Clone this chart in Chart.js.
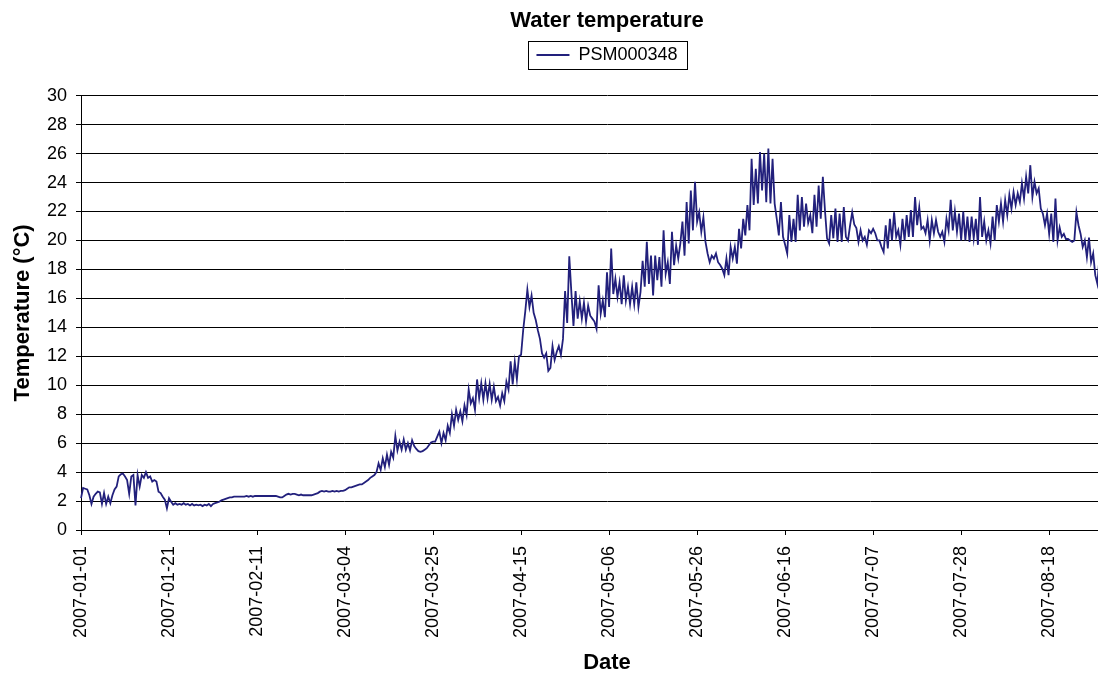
<!DOCTYPE html>
<html>
<head>
<meta charset="utf-8">
<title>Water temperature</title>
<script src="https://cdn.jsdelivr.net/npm/chart.js@4.4.1/dist/chart.umd.min.js"></script>
<style>
  html, body { margin: 0; padding: 0; overflow: hidden; background: #fff; }
  #wrap { width: 1140px; height: 677px; }
</style>
</head>
<body>
<div id="wrap"><canvas id="myChart" width="1140" height="677"></canvas></div>
<script>
// dates written under every 42nd reading (about two readings a day)
var tickLabels = ['2007-01-01', '2007-01-21', '2007-02-11', '2007-03-04', '2007-03-25', '2007-04-15',
  '2007-05-06', '2007-05-26', '2007-06-16', '2007-07-07', '2007-07-28', '2007-08-18'];
var samplesPerTick = 42;
var sampleCount = 503; // the axis runs a bit past the right edge of the picture
var seriesName = 'PSM000348';

// water temperature (°C), 21 readings per row
var temperature = [
  2.2, 2.9, 2.85, 2.8, 2.4, 1.8, 2.3, 2.5, 2.65, 2.6, 1.8, 2.55, 1.8, 2.3, 1.85, 2.4, 2.8, 3.0, 3.7, 3.85, 3.9,
  3.7, 3.45, 2.5, 3.7, 3.8, 1.7, 3.8, 3.0, 3.8, 3.6, 4.0, 3.6, 3.7, 3.35, 3.45, 3.35, 2.65, 2.55, 2.3, 2.1, 1.5,
  2.2, 1.95, 1.75, 1.85, 1.75, 1.8, 1.75, 1.85, 1.75, 1.8, 1.7, 1.8, 1.7, 1.75, 1.7, 1.75, 1.65, 1.75, 1.7, 1.8, 1.65,
  1.8, 1.85, 1.9, 1.95, 2.05, 2.1, 2.15, 2.2, 2.25, 2.25, 2.3, 2.3, 2.3, 2.3, 2.3, 2.3, 2.35, 2.3, 2.35, 2.3, 2.35,
  2.35, 2.35, 2.35, 2.35, 2.35, 2.35, 2.35, 2.35, 2.35, 2.35, 2.3, 2.25, 2.25, 2.35, 2.45, 2.5, 2.45, 2.5, 2.5, 2.45, 2.4,
  2.45, 2.4, 2.4, 2.4, 2.4, 2.4, 2.45, 2.5, 2.55, 2.65, 2.7, 2.65, 2.7, 2.65, 2.65, 2.7, 2.65, 2.7, 2.65, 2.7, 2.7,
  2.75, 2.85, 2.95, 2.95, 3.0, 3.05, 3.1, 3.15, 3.15, 3.25, 3.35, 3.45, 3.6, 3.7, 3.8, 4.0, 4.6, 4.15, 4.95, 4.35, 5.2,
  4.5, 5.4, 5.0, 6.5, 5.5, 6.1, 5.55, 6.25, 5.55, 6.0, 5.5, 6.2, 5.8, 5.6, 5.45, 5.4, 5.45, 5.55, 5.65, 5.85, 6.05,
  6.1, 6.1, 6.45, 6.8, 6.0, 6.7, 6.2, 7.2, 6.7, 8.0, 7.2, 8.3, 7.6, 8.2, 7.5, 8.6, 7.95, 9.7, 8.75, 9.1, 8.3,
  10.4, 9.1, 10.15, 9.0, 10.15, 9.1, 10.1, 9.0, 9.9, 8.9, 9.2, 8.6, 9.45, 8.9, 10.25, 9.7, 11.65, 10.05, 11.6, 10.4, 12.0,
  12.1, 13.8, 15.1, 16.6, 15.4, 16.2, 15.0, 14.5, 13.8, 13.2, 12.2, 11.9, 12.2, 11.0, 11.2, 12.7, 11.75, 12.3, 12.7, 12.1, 13.2,
  16.5, 14.3, 18.9, 16.4, 14.1, 16.5, 14.6, 15.8, 14.6, 15.7, 14.4, 15.5, 14.8, 14.6, 14.4, 13.9, 16.9, 14.95, 15.85, 14.7, 17.8,
  15.4, 19.45, 16.3, 17.35, 16.1, 17.1, 15.6, 17.6, 15.85, 16.8, 15.6, 16.8, 15.6, 17.1, 15.4, 16.45, 18.6, 16.8, 19.9, 17.0, 18.95,
  16.2, 18.95, 17.25, 18.85, 16.8, 20.7, 17.7, 18.5, 17.0, 20.6, 18.3, 19.65, 18.75, 19.8, 21.3, 18.95, 22.65, 19.8, 23.45, 20.7, 24.05,
  21.3, 21.95, 20.6, 21.6, 19.9, 19.1, 18.5, 18.95, 18.75, 19.1, 18.5, 18.3, 18.05, 17.6, 18.75, 17.6, 19.55, 18.75, 19.55, 18.4, 20.8,
  19.45, 21.5, 20.35, 22.45, 20.7, 25.65, 22.45, 24.95, 22.55, 26.1, 23.45, 26.0, 22.65, 26.35, 22.55, 25.65, 22.55, 21.5, 20.35, 22.65, 20.25,
  19.7, 19.1, 21.75, 19.9, 21.5, 19.9, 23.15, 20.7, 23.0, 20.95, 22.55, 21.2, 21.75, 20.5, 23.15, 20.95, 23.8, 21.5, 24.4, 22.1, 20.15,
  19.8, 21.75, 20.15, 22.2, 19.9, 21.85, 19.9, 22.3, 20.25, 20.0, 21.05, 21.95, 21.1, 20.85, 19.9, 20.7, 20.0, 20.25, 19.7, 20.7, 20.5,
  20.8, 20.5, 20.0, 20.0, 19.55, 19.2, 21.05, 19.45, 21.5, 20.0, 21.95, 20.25, 20.7, 19.7, 21.5, 20.0, 21.75, 20.25, 22.1, 20.25, 23.0,
  21.05, 22.3, 20.8, 20.95, 20.5, 21.4, 20.0, 21.4, 20.5, 21.4, 20.6, 20.25, 20.6, 19.9, 21.5, 20.7, 22.8, 20.7, 22.0, 20.6, 21.85,
  20.0, 22.0, 20.0, 21.65, 19.9, 21.65, 20.15, 21.5, 19.7, 23.0, 20.25, 21.3, 20.0, 20.7, 19.8, 21.65, 20.0, 22.45, 21.3, 22.55, 21.3,
  22.8, 21.75, 23.15, 22.2, 23.35, 22.45, 23.25, 22.65, 23.95, 22.9, 24.4, 23.25, 25.2, 23.0, 24.05, 23.25, 23.6, 22.2, 21.85, 21.05, 21.85,
  20.45, 21.85, 19.9, 22.9, 20.0, 20.9, 20.25, 20.45, 20.1, 20.1, 20.0, 19.9, 20.0, 21.95, 21.05, 20.45, 19.55, 20.0, 18.85, 20.2, 18.5,
  19.1, 17.6, 17.0, 18.85
];

var sampleLabels = [];
for (var i = 0; i < sampleCount; i++) {
  sampleLabels.push(i);
}

Chart.defaults.font.family = "'Liberation Sans', Arial, sans-serif";
Chart.defaults.color = '#000';

// frame round the legend, like the spreadsheet one
var legendFrame = {
  id: 'legendFrame',
  afterDraw: function (chart) {
    var legend = chart.legend;
    if (!legend || !legend.legendHitBoxes || !legend.legendHitBoxes.length) return;
    var box = legend.legendHitBoxes[0];
    var ctx = chart.ctx;
    ctx.save();
    ctx.strokeStyle = '#000';
    ctx.lineWidth = 1;
    ctx.strokeRect(Math.round(box.left - 8) + 0.5, Math.round(box.top - 5) + 0.5,
      Math.round(box.width + 18), Math.round(box.height + 10));
    ctx.restore();
  }
};

var myChart = new Chart(document.getElementById('myChart').getContext('2d'), {
  type: 'line',
  data: {
    labels: sampleLabels,
    datasets: [{
      label: seriesName,
      data: temperature,
      borderColor: '#22207c',
      backgroundColor: '#22207c',
      borderWidth: 1.8,
      pointRadius: 0,
      fill: false,
      tension: 0
    }]
  },
  options: {
    responsive: false,
    animation: false,
    devicePixelRatio: 1,
    layout: { padding: { left: 0, right: 7, top: 0, bottom: 0 } },
    plugins: {
      title: {
        display: true,
        text: 'Water temperature',
        fullSize: false,
        font: { size: 22, weight: 'bold' },
        padding: { top: 7.8, bottom: 7.8 }
      },
      legend: {
        display: true,
        fullSize: false,
        labels: {
          usePointStyle: true,
          pointStyle: 'line',
          pointStyleWidth: 33,
          font: { size: 18 },
          padding: 4
        }
      },
      // empty spacer between legend and plot
      subtitle: {
        display: true,
        text: '',
        fullSize: false,
        weight: 500,
        font: { size: 1 },
        padding: { top: 20.5, bottom: 0 }
      },
      tooltip: { enabled: false }
    },
    scales: {
      x: {
        type: 'category',
        offset: false,
        afterBuildTicks: function (axis) {
          axis.ticks = axis.ticks.filter(function (t) { return t.value % samplesPerTick === 0; });
        },
        afterFit: function (axis) { axis.height = 147; },
        grid: { display: true, drawOnChartArea: false, drawTicks: true, tickLength: 5, color: '#000' },
        border: { display: true, color: '#000', width: 1 },
        ticks: {
          autoSkip: false,
          minRotation: 90,
          maxRotation: 90,
          padding: 11,
          font: { size: 18 },
          callback: function (value) {
            return tickLabels[value / samplesPerTick] || '';
          }
        },
        title: {
          display: true,
          text: 'Date',
          font: { size: 22, weight: 'bold' },
          padding: { top: 0, bottom: 1 }
        }
      },
      y: {
        min: 0,
        max: 30,
        afterFit: function (axis) { axis.width = 81; },
        grid: { color: '#000', tickLength: 5 },
        border: { color: '#000' },
        ticks: { stepSize: 2, padding: 9, font: { size: 18 } },
        title: {
          display: true,
          text: 'Temperature (°C)',
          font: { size: 22, weight: 'bold' },
          padding: { top: 10, bottom: 0 }
        }
      }
    }
  },
  plugins: [legendFrame]
});
</script>
</body>
</html>
